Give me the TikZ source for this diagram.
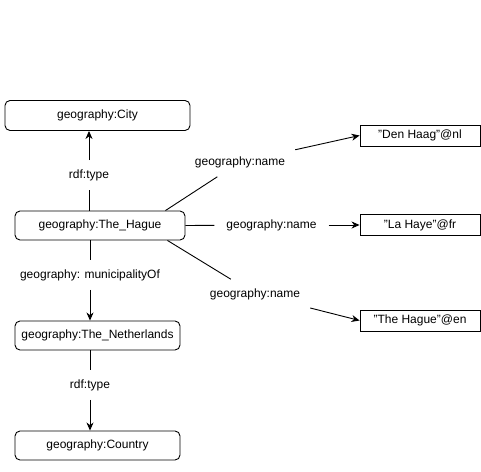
\documentclass[tikz,border=0pt]{standalone}
\usepackage{fontspec}
\setmainfont[Ligatures=NoCommon]{Liberation Sans}
\usetikzlibrary{arrows.meta,calc}
\begin{document}
\begin{tikzpicture}[x=1pt,y=-1pt,
  every node/.style={font=\fontsize{12}{14}\selectfont},
  res/.style={draw,rounded corners=5pt,line width=0.9pt,inner sep=0pt},
  lit/.style={draw,line width=0.9pt,inner sep=0pt,minimum width=120pt,minimum height=21pt},
  lbl/.style={inner xsep=10pt,inner ysep=9pt},
  edge/.style={line width=0.9pt},
  arr/.style={line width=0.9pt,-{Stealth[length=8pt,width=7pt,inset=2.5pt]}}]
\useasboundingbox (0,0) rectangle (481,471);
% resource nodes
\node[res,minimum width=185pt,minimum height=30pt] (city) at (97.5,115.5) {geography:City};
\node[res,minimum width=170pt,minimum height=29pt] (hague) at (100,225.5) {geography:The\_Hague};
\node[res,minimum width=165pt,minimum height=29pt] (neth) at (97.5,335.5) {geography:The\_Netherlands};
\node[res,minimum width=165pt,minimum height=29pt] (country) at (97.5,445.5) {geography:Country};
% literal nodes
\node[lit] (dh) at (420,135.5) {\symbol{34}Den Haag\symbol{34}@nl};
\node[lit] (lh) at (420,225) {\symbol{34}La Haye\symbol{34}@fr};
\node[lit] (en) at (420,320.5) {\symbol{34}The Hague\symbol{34}@en};
% labels
\node[lbl] (t1) at (89,175) {rdf:type};
\node[lbl] (m1) at (90,275) {geography: municipalityOf};
\node[lbl] (t2) at (90,385) {rdf:type};
\node[lbl] (n1) at (240,162) {geography:name};
\node[lbl,inner xsep=12pt] (n2) at (271.5,225) {geography:name};
\node[lbl] (n3) at (255,294) {geography:name};
% edges
\draw[edge] (hague.north -| t1) -- (t1.south);
\draw[arr] (t1.north) -- (city.south -| t1);
\draw[edge] (hague.south -| m1) -- (m1.north);
\draw[arr] (m1.south) -- (neth.north -| m1);
\draw[edge] (neth.south -| t2) -- (t2.north);
\draw[arr] (t2.south) -- (country.north -| t2);
\draw[edge] ([xshift=-20pt]hague.north east) -- (n1);
\draw[arr] (n1) -- (dh.west);
\draw[edge] (hague.east) -- (n2);
\draw[arr] (n2) -- (lh.west);
\draw[edge] ([xshift=-18pt]hague.south east) -- (n3);
\draw[arr] (n3) -- (en.west);
\end{tikzpicture}
\end{document}
